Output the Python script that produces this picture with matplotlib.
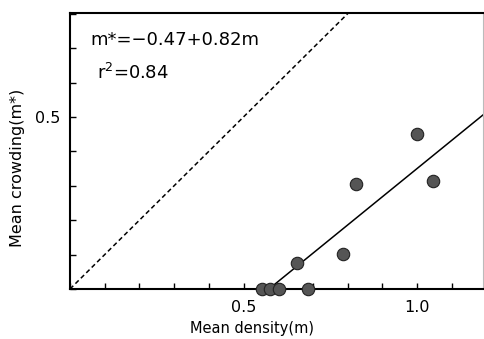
import matplotlib
matplotlib.use("Agg")
import matplotlib.pyplot as plt
import numpy as np
from matplotlib.ticker import MultipleLocator, FixedLocator

# data
density = [1.0, 1.046, 0.823, 0.788, 0.653, 0.552, 0.576, 0.602, 0.687]
crowding = [0.45, 0.314, 0.304, 0.103, 0.075, 0.0, 0.0, 0.0, 0.0]
intercept = -0.47
slope = 0.82
xticks = [0.5, 1.0]
xticklabels = ["0.5", "1.0"]
yticks = [0.5]
yticklabels = ["0.5"]

plt.rcParams['font.family'] = ['DejaVu Sans']
fig = plt.figure(figsize=(4.85, 3.39), dpi=100)
ax = fig.add_axes([70/485, 1-289/339, (483-70)/485, (289-13)/339])

xmax, ymax = 1.19, 0.802
ax.set_xlim(0, xmax)
ax.set_ylim(0, ymax)

# 1:1 line
ax.plot([0, ymax], [0, ymax], linestyle=(0, (3, 2)), color='black', lw=1.1)
# regression
x0 = -intercept / slope
xs = np.array([x0, xmax])
ax.plot(xs, intercept + slope * xs, color='black', lw=1.1)

ax.scatter(density, crowding, s=80, color='#555555', edgecolor='#222222',
           linewidth=0.8, zorder=3, clip_on=False)

ax.xaxis.set_major_locator(FixedLocator(xticks))
ax.set_xticklabels(xticklabels)
ax.yaxis.set_major_locator(FixedLocator(yticks))
ax.set_yticklabels(yticklabels)
ax.xaxis.set_minor_locator(MultipleLocator(0.1))
ax.yaxis.set_minor_locator(MultipleLocator(0.1))
ax.tick_params(which='both', direction='in', length=4, width=1, labelsize=11.5,
               top=False, right=False)
ax.tick_params(axis='x', pad=8)
ax.tick_params(axis='y', pad=7)

for s in ['left', 'bottom', 'top']:
    ax.spines[s].set_linewidth(1.5)
ax.spines['right'].set_color('#bbbbbb')
ax.spines['right'].set_linewidth(0.8)

fig.text(252/485, 1-328/339, "Mean density(m)", fontsize=10.5,
         ha='center', va='center')
fig.text(18/485, 1-168/339, "Mean crowding(m*)", fontsize=11.5,
         ha='center', va='center', rotation=90)

fig.text(90/485, 1-40/339, "m*=\u22120.47+0.82m", fontsize=13,
         va='center', ha='left')
fig.text(97/485, 1-73/339, "r$^2$=0.84", fontsize=13,
         va='center', ha='left')

fig.savefig("out.png", dpi=100)
